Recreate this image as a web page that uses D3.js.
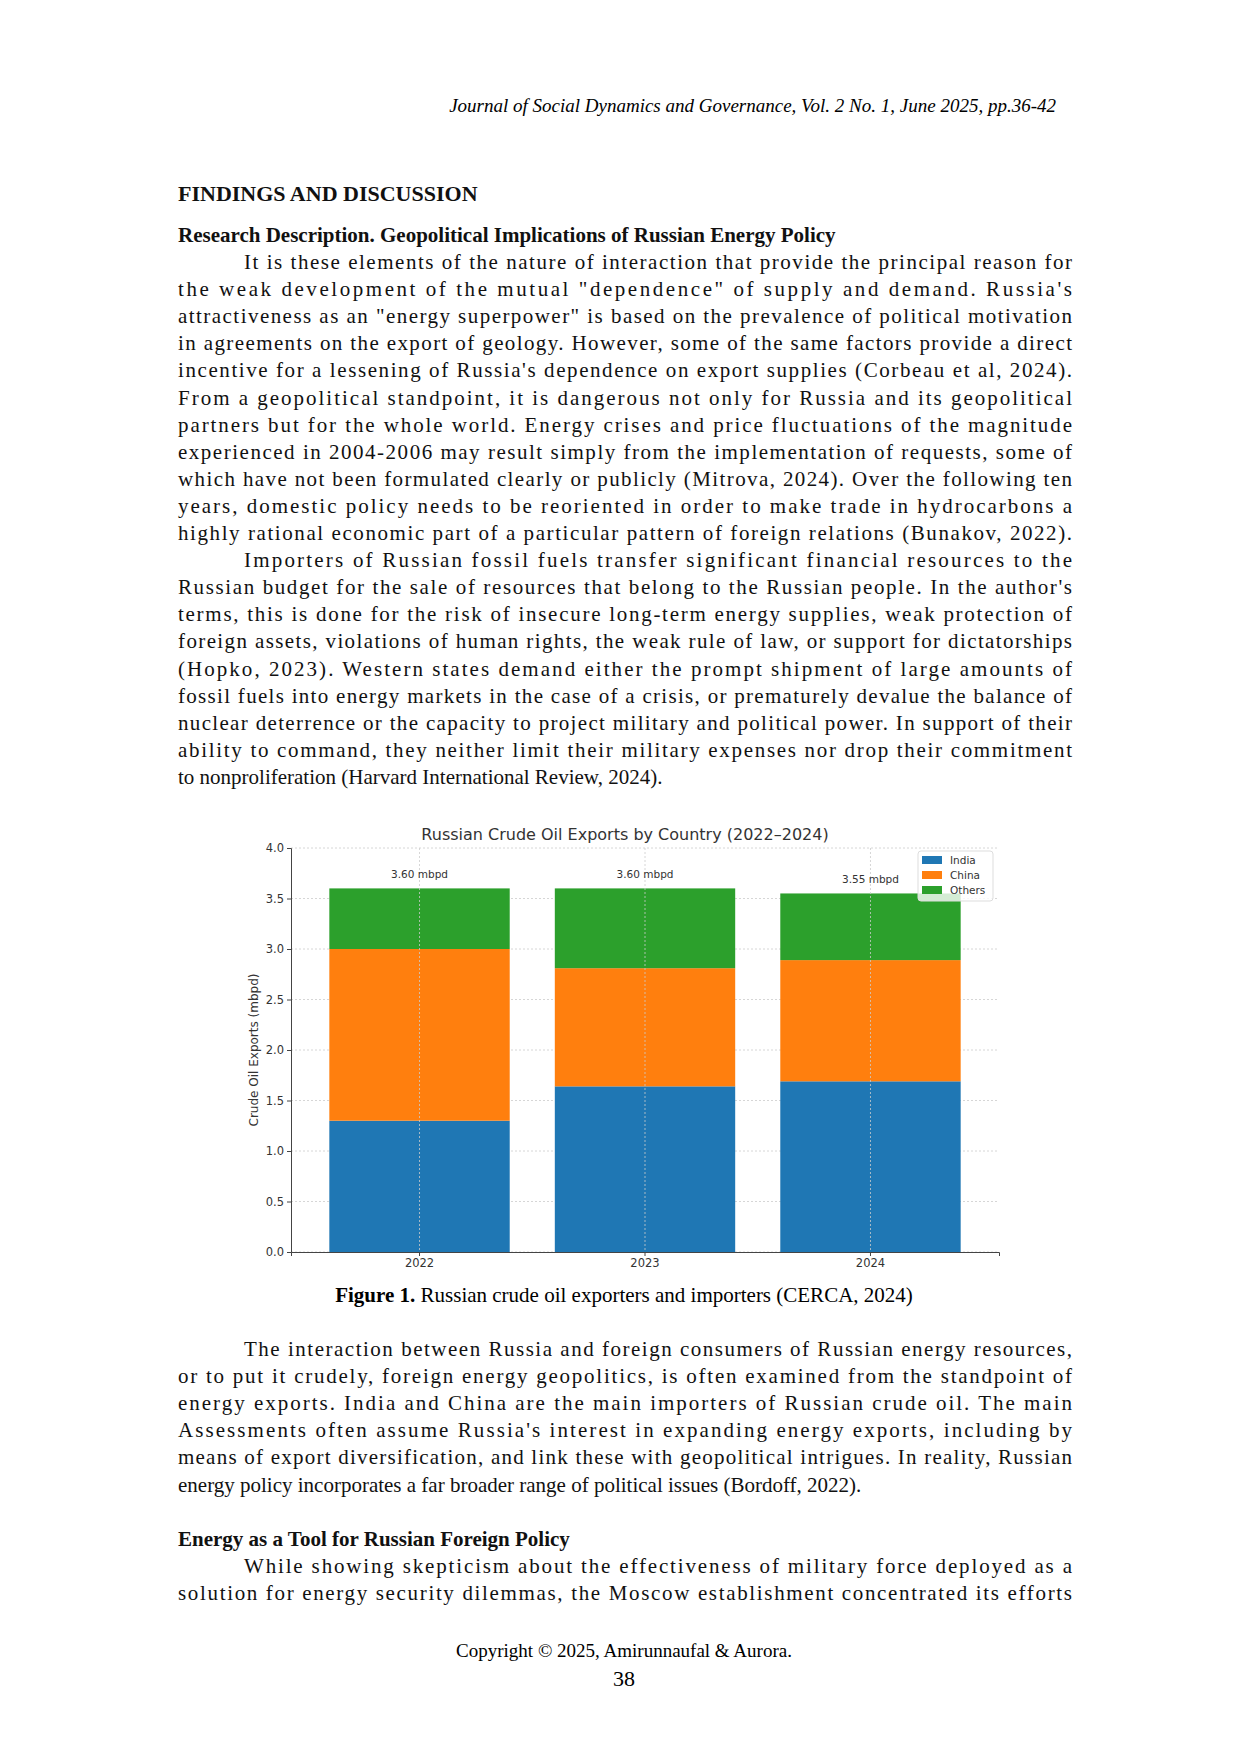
<!DOCTYPE html>
<html><head><meta charset="utf-8">
<script src="https://cdn.jsdelivr.net/npm/d3@7"></script>
<style>body{margin:0;background:#fff}</style>
</head><body>
<svg id="svg" width="1241" height="1754"></svg>
<script>
// chart data
var years = ["2022", "2023", "2024"];
var india = [1.30, 1.64, 1.69];
var china = [1.70, 1.17, 1.20];
var others = [0.60, 0.79, 0.66];
var totals = ["3.60 mbpd", "3.60 mbpd", "3.55 mbpd"];
var series = ["India", "China", "Others"];
var colors = ["#1f77b4", "#ff7f0e", "#2ca02c"];
var yTicks = [0, 0.5, 1, 1.5, 2, 2.5, 3, 3.5, 4];

var svg = d3.select("#svg");
var serif = "'Liberation Serif', serif";

// page text
var L = 178, R = 1072;
function line(y, txt, opt) {
    opt = opt || {};
    var x = L + (opt.indent || 0);
    var t = svg.append("text").attr("x", x).attr("y", y)
        .attr("font-family", serif).attr("font-size", opt.size || 21)
        .attr("fill", "#111").text(txt);
    if (opt.bold) t.attr("font-weight", "bold");
    if (opt.justify) t.attr("textLength", R - x).attr("lengthAdjust", "spacing");
    return t;
}
svg.append("text").attr("x", 1056).attr("y", 112).attr("text-anchor", "end")
    .attr("font-family", serif).attr("font-style", "italic").attr("font-size", 19)
    .text("Journal of Social Dynamics and Governance, Vol. 2 No. 1, June 2025, pp.36-42");
line(201, "FINDINGS AND DISCUSSION", {bold: true, size: 22});
line(242, "Research Description. Geopolitical Implications of Russian Energy Policy", {bold: true});

var para1 = [
 "It is these elements of the nature of interaction that provide the principal reason for",
 "the weak development of the mutual \"dependence\" of supply and demand. Russia's",
 "attractiveness as an \"energy superpower\" is based on the prevalence of political motivation",
 "in agreements on the export of geology. However, some of the same factors provide a direct",
 "incentive for a lessening of Russia's dependence on export supplies (Corbeau et al, 2024).",
 "From a geopolitical standpoint, it is dangerous not only for Russia and its geopolitical",
 "partners but for the whole world. Energy crises and price fluctuations of the magnitude",
 "experienced in 2004-2006 may result simply from the implementation of requests, some of",
 "which have not been formulated clearly or publicly (Mitrova, 2024). Over the following ten",
 "years, domestic policy needs to be reoriented in order to make trade in hydrocarbons a",
 "highly rational economic part of a particular pattern of foreign relations (Bunakov, 2022).",
 "Importers of Russian fossil fuels transfer significant financial resources to the",
 "Russian budget for the sale of resources that belong to the Russian people. In the author's",
 "terms, this is done for the risk of insecure long-term energy supplies, weak protection of",
 "foreign assets, violations of human rights, the weak rule of law, or support for dictatorships",
 "(Hopko, 2023). Western states demand either the prompt shipment of large amounts of",
 "fossil fuels into energy markets in the case of a crisis, or prematurely devalue the balance of",
 "nuclear deterrence or the capacity to project military and political power. In support of their",
 "ability to command, they neither limit their military expenses nor drop their commitment",
 "to nonproliferation (Harvard International Review, 2024)."
];
para1.forEach(function(s, i) {
    line(269 + i * 27.1, s, {indent: (i == 0 || i == 11) ? 66 : 0, justify: i != 19});
});

svg.append("text").attr("x", 624).attr("y", 1302).attr("text-anchor", "middle")
    .attr("font-family", serif).attr("font-size", 21)
    .html("<tspan font-weight='bold'>Figure 1.</tspan> Russian crude oil exporters and importers (CERCA, 2024)");

var para2 = [
 "The interaction between Russia and foreign consumers of Russian energy resources,",
 "or to put it crudely, foreign energy geopolitics, is often examined from the standpoint of",
 "energy exports. India and China are the main importers of Russian crude oil. The main",
 "Assessments often assume Russia's interest in expanding energy exports, including by",
 "means of export diversification, and link these with geopolitical intrigues. In reality, Russian",
 "energy policy incorporates a far broader range of political issues (Bordoff, 2022)."
];
para2.forEach(function(s, i) {
    line(1356 + i * 27.1, s, {indent: i == 0 ? 66 : 0, justify: i != 5});
});
line(1546, "Energy as a Tool for Russian Foreign Policy", {bold: true});
line(1573, "While showing skepticism about the effectiveness of military force deployed as a", {indent: 66, justify: true});
line(1600, "solution for energy security dilemmas, the Moscow establishment concentrated its efforts", {justify: true});
svg.append("text").attr("x", 624).attr("y", 1657).attr("text-anchor", "middle")
    .attr("font-family", serif).attr("font-size", 19).text("Copyright \u00a9 2025, Amirunnaufal & Aurora.");
svg.append("text").attr("x", 624).attr("y", 1686).attr("text-anchor", "middle")
    .attr("font-family", serif).attr("font-size", 22).text("38");

// chart
var sans = "'DejaVu Sans', sans-serif";
var x0 = 291, x1 = 999, yTop = 848, yBot = 1252;
var x = d3.scaleBand().domain(years).range([x0, x1]).paddingInner(0.2).paddingOuter(0.17);
var y = d3.scaleLinear().domain([0, 4]).range([yBot, yTop]);

var g = svg.append("g");
// grid
g.selectAll(".gy").data(yTicks).enter().append("line")
    .attr("x1", x0).attr("x2", x1).attr("y1", function(d){return y(d);}).attr("y2", function(d){return y(d);})
    .attr("stroke", "#ccc").attr("stroke-dasharray", "2,2").attr("stroke-width", 0.8);

var rows = years.map(function(yr, i) {
    return {year: yr, India: india[i], China: china[i], Others: others[i]};
});
var stacked = d3.stack().keys(series)(rows);
g.selectAll(".layer").data(stacked).enter().append("g")
    .attr("fill", function(d, i){return colors[i];})
    .selectAll("rect").data(function(d){return d;}).enter().append("rect")
    .attr("x", function(d){return x(d.data.year);})
    .attr("width", x.bandwidth())
    .attr("y", function(d){return y(d[1]);})
    .attr("height", function(d){return y(d[0]) - y(d[1]);});

g.selectAll(".gx").data(years).enter().append("line")
    .attr("x1", function(d){return x(d) + x.bandwidth()/2;}).attr("x2", function(d){return x(d) + x.bandwidth()/2;})
    .attr("y1", yTop).attr("y2", yBot)
    .attr("stroke", "#ccc").attr("stroke-dasharray", "2,2").attr("stroke-width", 0.8);

// total labels
g.selectAll(".tot").data(years).enter().append("text")
    .attr("x", function(d){return x(d) + x.bandwidth()/2;})
    .attr("y", function(d, i){return y(india[i] + china[i] + others[i]) - 10;})
    .attr("text-anchor", "middle").attr("font-family", sans).attr("font-size", 10.5).attr("fill", "#333")
    .text(function(d, i){return totals[i];});

// axes
var ya = svg.append("g").attr("transform", "translate(" + x0 + ",0)")
    .call(d3.axisLeft(y).tickValues(yTicks).tickFormat(d3.format(".1f")).tickSize(4));
var xa = svg.append("g").attr("transform", "translate(0," + yBot + ")")
    .call(d3.axisBottom(x).tickSize(4));
[ya, xa].forEach(function(a) {
    a.selectAll("text").attr("font-family", sans).attr("font-size", 11.5).attr("fill", "#333");
    a.selectAll("line,path").attr("stroke", "#444");
});
svg.append("text").attr("transform", "translate(258," + (yTop + yBot)/2 + ") rotate(-90)")
    .attr("text-anchor", "middle").attr("font-family", sans).attr("font-size", 12).attr("fill", "#333")
    .text("Crude Oil Exports (mbpd)");
svg.append("text").attr("x", 625).attr("y", 840).attr("text-anchor", "middle")
    .attr("font-family", sans).attr("font-size", 16).attr("fill", "#333")
    .text("Russian Crude Oil Exports by Country (2022\u20132024)");

// legend
var lg = svg.append("g").attr("transform", "translate(918,851)");
lg.append("rect").attr("width", 75).attr("height", 50).attr("rx", 3)
    .attr("fill", "#fff").attr("fill-opacity", 0.8).attr("stroke", "#ddd");
series.forEach(function(s, i) {
    lg.append("rect").attr("x", 4).attr("y", 5 + i * 15).attr("width", 20).attr("height", 8).attr("fill", colors[i]);
    lg.append("text").attr("x", 32).attr("y", 13 + i * 15).attr("font-family", sans).attr("font-size", 10.5)
        .attr("fill", "#333").text(s);
});
</script>
</body></html>
